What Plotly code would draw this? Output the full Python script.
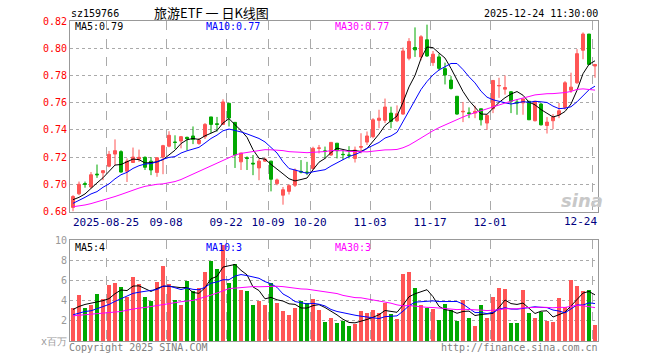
import plotly.graph_objects as go
import pandas as pd

# ---------------- data ----------------
month_days = {
    "2025-08": [15, 18, 19, 20, 21, 22, 25, 26, 27, 28, 29],
    "2025-09": [1, 2, 3, 4, 5, 8, 9, 10, 11, 12, 15, 16, 17, 18, 19, 22, 23, 24, 25, 26, 29, 30],
    "2025-10": [9, 10, 13, 14, 15, 16, 17, 20, 21, 22, 23, 24, 27, 28, 29, 30, 31],
    "2025-11": [3, 4, 5, 6, 7, 10, 11, 12, 13, 14, 17, 18, 19, 20, 21, 24, 25, 26, 27, 28],
    "2025-12": [1, 2, 3, 4, 5, 8, 9, 10, 11, 12, 15, 16, 17, 18, 19, 22, 23, 24],
}
dates = [f"{m}-{d:02d}" for m, ds in month_days.items() for d in ds]

tick_dates = ["2025-08-25", "2025-09-08", "2025-09-22", "2025-10-09", "2025-10-20",
              "2025-11-03", "2025-11-17", "2025-12-01", "2025-12-24"]
tick_labels = ["2025-08-25", "09-08", "09-22", "10-09", "10-20", "11-03", "11-17", "12-01", "12-24"]

open_ = [0.683, 0.693, 0.7005, 0.698, 0.7075, 0.7085, 0.7133, 0.7222, 0.724, 0.7096,
         0.716, 0.7185, 0.7198, 0.717, 0.7087, 0.720, 0.728, 0.731, 0.7318, 0.7345,
         0.7355, 0.730, 0.735, 0.7495, 0.7445, 0.744, 0.7595, 0.7455, 0.7165, 0.7195,
         0.7155, 0.712, 0.717, 0.717, 0.7005, 0.692, 0.6948, 0.6993, 0.7095, 0.709,
         0.7116, 0.7264, 0.7245, 0.7215, 0.7302, 0.722, 0.7215, 0.719, 0.7272, 0.731,
         0.735, 0.747, 0.747, 0.7523, 0.7467, 0.7516, 0.7926, 0.8005, 0.7936, 0.8062,
         0.7894, 0.7936, 0.785, 0.7766, 0.7647, 0.7532, 0.7525, 0.7523, 0.7555, 0.745,
         0.7556, 0.7723, 0.7699, 0.768, 0.7605, 0.7598, 0.761, 0.7467, 0.759, 0.7432,
         0.7467, 0.7511, 0.7565, 0.7691, 0.7746, 0.7985, 0.8104, 0.7869]
high = [0.692, 0.702, 0.702, 0.709, 0.7145, 0.7105, 0.7245, 0.733, 0.725, 0.719,
        0.727, 0.7255, 0.7205, 0.720, 0.720, 0.729, 0.739, 0.736, 0.7355, 0.735,
        0.7425, 0.734, 0.745, 0.7495, 0.7495, 0.7625, 0.7598, 0.7455, 0.723, 0.7205,
        0.7215, 0.719, 0.7195, 0.7173, 0.7042, 0.698, 0.700, 0.7116, 0.7178, 0.7165,
        0.7276, 0.7289, 0.7277, 0.7308, 0.7302, 0.7252, 0.728, 0.7277, 0.7375, 0.7388,
        0.7486, 0.7548, 0.763, 0.757, 0.758, 0.8005, 0.8074, 0.8153, 0.8096, 0.8173,
        0.798, 0.796, 0.7894, 0.7795, 0.7647, 0.7605, 0.7565, 0.7578, 0.7555, 0.7511,
        0.7763, 0.7783, 0.780, 0.7684, 0.7622, 0.7627, 0.761, 0.761, 0.7597, 0.7494,
        0.7516, 0.7597, 0.7758, 0.782, 0.7993, 0.8116, 0.8104, 0.7885]
low = [0.680, 0.692, 0.6975, 0.697, 0.7047, 0.703, 0.7125, 0.714, 0.7085, 0.7017,
       0.716, 0.7165, 0.7105, 0.7067, 0.7055, 0.7074, 0.7272, 0.726, 0.7264, 0.725,
       0.7295, 0.729, 0.7333, 0.7375, 0.7388, 0.7437, 0.7425, 0.712, 0.7105, 0.7105,
       0.7067, 0.703, 0.7165, 0.6948, 0.6993, 0.685, 0.6925, 0.698, 0.708, 0.7067,
       0.7104, 0.7227, 0.719, 0.721, 0.719, 0.7178, 0.719, 0.716, 0.7227, 0.7289,
       0.7338, 0.7412, 0.745, 0.7412, 0.7457, 0.7511, 0.7911, 0.7936, 0.7911, 0.7936,
       0.787, 0.7837, 0.7734, 0.7696, 0.7511, 0.7457, 0.7486, 0.7486, 0.7432, 0.740,
       0.7523, 0.7635, 0.7659, 0.7523, 0.7511, 0.7511, 0.7474, 0.7462, 0.7432, 0.7373,
       0.7405, 0.7486, 0.7548, 0.7672, 0.7738, 0.7919, 0.7877, 0.7783]
close = [0.691, 0.700, 0.700, 0.707, 0.707, 0.710, 0.722, 0.7247, 0.709, 0.717,
         0.720, 0.7198, 0.7125, 0.7105, 0.7195, 0.7284, 0.736, 0.7308, 0.735, 0.7335,
         0.733, 0.7325, 0.744, 0.744, 0.744, 0.7605, 0.7487, 0.7215, 0.723, 0.719,
         0.715, 0.717, 0.7185, 0.7037, 0.7032, 0.696, 0.699, 0.7104, 0.709, 0.7086,
         0.7264, 0.7267, 0.7243, 0.7308, 0.7247, 0.7218, 0.7213, 0.7252, 0.7277, 0.7355,
         0.7474, 0.7486, 0.7568, 0.7462, 0.7518, 0.798, 0.805, 0.7988, 0.8084, 0.7943,
         0.7956, 0.7852, 0.7803, 0.7704, 0.7516, 0.7536, 0.752, 0.7536, 0.7474, 0.7506,
         0.7763, 0.7726, 0.7711, 0.761, 0.7598, 0.7627, 0.7474, 0.761, 0.7437, 0.7457,
         0.7494, 0.754, 0.7746, 0.7714, 0.796, 0.8104, 0.7881, 0.788]

volume = [3.27, 4.53, 3.27, 3.5, 4.63, 4.1, 5.53, 5.73, 5.33, 4.35,
          6.33, 5.65, 4.35, 3.93, 5.83, 7.43, 5.65, 4.03, 3.53, 5.95,
          4.93, 5.23, 6.83, 7.95, 7.15, 9.55, 5.73, 7.63, 5.03, 4.93,
          3.53, 3.93, 3.53, 5.73, 3.73, 2.93, 2.53, 3.27, 3.93, 3.7,
          4.13, 3.03, 1.83, 2.23, 1.75, 1.95, 1.45, 1.63, 2.93, 2.73,
          3.03, 2.73, 3.73, 2.63, 2.13, 6.63, 6.83, 5.23, 3.53, 3.25,
          3.15, 2.03, 3.63, 3.03, 1.93, 4.03, 2.23, 1.43, 3.53, 2.23,
          4.3, 5.2, 5.1, 1.75, 1.8, 5.0, 2.8, 2.3, 2.9, 2.0,
          1.9, 4.2, 3.3, 6.0, 5.4, 4.9, 5.0, 1.6]

# moving-average values for the first days (history before the window)
ma5_head = [0.6887, 0.6904, 0.6929, 0.6966]
ma10_head = [0.686, 0.688, 0.6904, 0.6929, 0.6946, 0.6978, 0.7003, 0.704, 0.707]
ma30_head = [0.6835, 0.6840, 0.6848, 0.6858, 0.687, 0.6882, 0.6895, 0.6910, 0.6925, 0.6942,
             0.6958, 0.6972, 0.6985, 0.6995, 0.7000, 0.7003, 0.7010, 0.7020, 0.7035, 0.7055,
             0.7075, 0.7095, 0.7115, 0.7135, 0.7155, 0.718, 0.720, 0.7215, 0.7227]
vma5_head = [3.13, 3.43, 3.63, 3.73]
vma10_head = [2.6, 2.8, 2.93, 3.0, 3.2, 3.37, 3.63, 3.93, 4.2]
vma30_head = [2.5, 2.55, 2.6, 2.68, 2.76, 2.78, 2.8, 2.86, 2.93, 3.06,
              3.2, 3.27, 3.33, 3.43, 3.53, 3.65, 3.77, 3.83, 3.9, 3.97,
              4.03, 4.2, 4.36, 4.56, 4.76, 4.98, 5.2, 5.25, 5.32]

header_code = "sz159766"
header_title = "旅游ETF 一 日K线图"
header_time = "2025-12-24 11:30:00"
price_legend = ["MA5:0.79", "MA10:0.77", "MA30:0.77"]
vol_legend = ["MA5:4", "MA10:3", "MA30:3"]

# ---------------- helpers ----------------
def moving(values, n, head):
    s = pd.Series(values).rolling(n).mean().tolist()
    for i, v in enumerate(head):
        s[i] = v
    return s

RED = "#ff5555"
GREEN = "#00a800"
MONO = "DejaVu Sans Mono"

x = list(range(len(dates)))
colors = [RED if c >= o else GREEN for o, c in zip(open_, close)]

fig = go.Figure()

fig.add_trace(go.Candlestick(
    x=x, open=open_, high=high, low=low, close=close,
    increasing=dict(line=dict(color=RED, width=1), fillcolor=RED),
    decreasing=dict(line=dict(color=GREEN, width=1), fillcolor=GREEN),
    whiskerwidth=0, xaxis="x", yaxis="y", showlegend=False, hoverinfo="skip",
))
for n, head, col in [(5, ma5_head, "#000000"), (10, ma10_head, "#0000ff"), (30, ma30_head, "#ff00ff")]:
    fig.add_trace(go.Scatter(x=x, y=moving(close, n, head), mode="lines",
                             line=dict(color=col, width=1), xaxis="x", yaxis="y",
                             showlegend=False, hoverinfo="skip"))

fig.add_trace(go.Bar(x=x, y=volume, marker=dict(color=colors, line=dict(width=0)),
                     width=0.82, xaxis="x2", yaxis="y2", showlegend=False, hoverinfo="skip"))
for n, head, col in [(5, vma5_head, "#000000"), (10, vma10_head, "#0000ff"), (30, vma30_head, "#ff00ff")]:
    fig.add_trace(go.Scatter(x=x, y=moving(volume, n, head), mode="lines",
                             line=dict(color=col, width=1), xaxis="x2", yaxis="y2",
                             showlegend=False, hoverinfo="skip"))

tickvals = [dates.index(d) - 0.5 for d in tick_dates]
ticktext = tick_labels[:-1] + [""]

W, H = 660, 360
ML, MR, MT, MB = 70, 62, 21, 19
PW, PH = W - ML - MR, H - MT - MB

def px(xp):
    return (xp - ML) / PW

def py(yp):
    return (H - MB - yp) / PH

grid_v = dict(showgrid=True, gridcolor="#aaaaaa", griddash="dash", gridwidth=1,
              showline=True, mirror=True, linecolor="#999999", linewidth=1,
              zeroline=False, ticks="", range=[-0.5, len(dates) - 0.5],
              tickvals=tickvals, ticktext=ticktext)

fig.update_layout(
    width=W, height=H,
    margin=dict(l=ML, r=MR, t=MT, b=MB, pad=0, autoexpand=False),
    paper_bgcolor="white", plot_bgcolor="white",
    bargap=0,
    xaxis=dict(domain=[0, 1], anchor="y", rangeslider=dict(visible=False),
               tickfont=dict(family=MONO, size=11, color="#000080"), **grid_v),
    xaxis2=dict(domain=[0, 1], anchor="y2", matches="x", showticklabels=False, **grid_v),
    yaxis=dict(domain=[py(211.5), 1], range=[0.68, 0.82],
               tickvals=[0.68, 0.70, 0.72, 0.74, 0.76, 0.78, 0.80, 0.82],
               tickformat=".2f",
               tickfont=dict(family=MONO, size=10, color="#ff0000"),
               showgrid=True, gridcolor="#aaaaaa", griddash="dot", gridwidth=1,
               showline=True, mirror=True, linecolor="#999999", linewidth=1,
               zeroline=False, ticks=""),
    yaxis2=dict(domain=[0, py(240.3)], range=[0, 10],
                tickvals=[0, 2, 4, 6, 8, 10],
                ticktext=["x百万", "2", "4", "6", "8", "10"],
                tickfont=dict(family=MONO, size=10, color="#999999"),
                showgrid=True, gridcolor="#aaaaaa", griddash="dot", gridwidth=1,
                showline=True, mirror=True, linecolor="#999999", linewidth=1,
                zeroline=False, ticks=""),
)

ann = []
def text(s, xp, yp, anchor="left", size=10, color="#000000", family=MONO, **kw):
    ann.append(dict(text=s, x=px(xp), y=py(yp), xref="paper", yref="paper",
                    xanchor=anchor, yanchor="middle", showarrow=False, borderpad=0,
                    font=dict(family=family, size=size, color=color, **kw)))

text(header_code, 70, 13)
text(header_title, 211, 12.5, anchor="center", size=13, family="Noto Sans CJK SC")
text(header_time, 599, 13, anchor="right")
text(price_legend[0], 74, 26.5)
text(price_legend[1], 205, 26.5, color="#0000ff")
text(price_legend[2], 334, 26.5, color="#ff00ff")
text(vol_legend[0], 74, 247)
text(vol_legend[1], 205, 247, color="#0000ff")
text(vol_legend[2], 334, 247, color="#ff00ff")
text("Copyright 2025 SINA.COM", 68, 347, color="#808080")
text("http://finance.sina.com.cn", 599, 347, anchor="right", color="#808080")
text("sina", 582, 200, anchor="center", size=18, color="#c8c8c8",
     family="DejaVu Sans", style="italic", weight="bold")
# last date label, right-aligned to the plot edge as on the chart
ann.append(dict(text=tick_labels[-1], x=len(dates) - 0.5, y=py(221), xref="x", yref="paper",
                xanchor="right", yanchor="middle", showarrow=False, borderpad=0,
                font=dict(family=MONO, size=11, color="#000080")))
fig.update_layout(annotations=ann)

fig.write_html("out.html", config={"displayModeBar": False},
               post_script="document.body.style.margin='0';")
